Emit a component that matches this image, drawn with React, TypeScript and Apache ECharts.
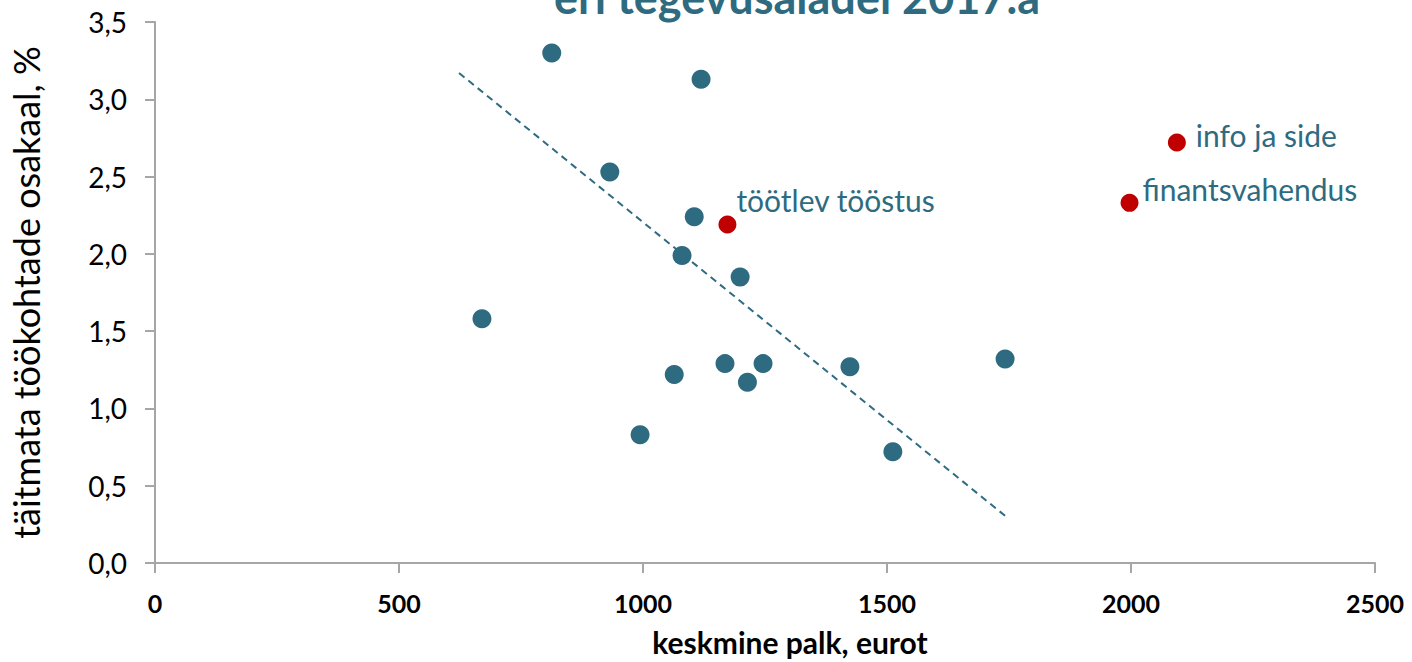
import React, { useEffect, useRef } from "react";
import * as echarts from "echarts";

// Blue points: average wage (EUR) vs share of unfilled vacancies (%)
const blueX = [670, 813, 1119, 932, 1105, 1080, 1199, 1064, 1168, 1246, 1214, 994, 1424, 1512, 1742];
const blueY = [1.58, 3.30, 3.13, 2.53, 2.24, 1.99, 1.85, 1.22, 1.29, 1.29, 1.17, 0.83, 1.27, 0.72, 1.32];

// Highlighted (red) points with labels
const redNames = ["töötlev tööstus", "info ja side", "finantsvahendus"];
const redX = [1173, 2094, 1997];
const redY = [2.19, 2.72, 2.33];

// Trend line endpoints
const trendX = [623, 1748];
const trendY = [3.17, 0.29];

const xTicks = { min: 0, max: 2500, interval: 500 };
const yTicks = { min: 0, max: 3.5, interval: 0.5 };

const titleText = "eri tegevusaladel 2017.a";
const xName = "keskmine palk, eurot";
const yName = "täitmata töökohtade osakaal, %";

const BLUE = "#2E6B80";
const RED = "#C00000";
const AXIS = "#A6A6A6";
const FONT = "Lato";

export default function App() {
  const ref = useRef<HTMLDivElement>(null);
  useEffect(() => {
    document.body.style.margin = "0";
    const chart = echarts.init(ref.current!, undefined, { renderer: "svg" });
    const labelOffsets: Record<string, number[]> = {
      "töötlev tööstus": [-2, -24],
      "info ja side": [8, -8],
      "finantsvahendus": [2, -14],
    };
    chart.setOption({
      animation: false,
      textStyle: { fontFamily: FONT },
      grid: { left: 155, right: 37, top: 22, bottom: 96 },
      graphic: [
        {
          type: "text",
          x: 797,
          y: 19,
          style: {
            text: titleText,
            fill: BLUE,
            font: `bold 45px ${FONT}`,
            textAlign: "center",
            textVerticalAlign: "bottom",
          },
        },
      ],
      xAxis: {
        type: "value",
        ...xTicks,
        name: xName,
        nameLocation: "middle",
        nameGap: 64,
        nameTextStyle: {
          fontSize: 30,
          fontWeight: "bold",
          color: "#000",
          fontFamily: FONT,
          padding: [0, 0, 0, 50],
        },
        axisLine: { show: true, lineStyle: { color: AXIS, width: 2 } },
        axisTick: { show: true, length: 10, lineStyle: { color: AXIS, width: 2 } },
        axisLabel: {
          fontSize: 25,
          fontWeight: "bold",
          color: "#000",
          margin: 27,
          fontFamily: FONT,
          formatter: (v: number) => String(v),
        },
        splitLine: { show: false },
      },
      yAxis: {
        type: "value",
        ...yTicks,
        name: yName,
        nameLocation: "middle",
        nameGap: 111,
        nameTextStyle: { fontSize: 36, color: "#000", fontFamily: FONT },
        axisLine: { show: true, lineStyle: { color: AXIS, width: 2 } },
        axisTick: { show: true, length: 10, lineStyle: { color: AXIS, width: 2 } },
        axisLabel: {
          fontSize: 28,
          color: "#000",
          margin: 28,
          fontFamily: FONT,
          formatter: (v: number) => v.toFixed(1).replace(".", ","),
        },
        splitLine: { show: false },
      },
      series: [
        {
          type: "line",
          data: trendX.map((x, i) => [x, trendY[i]]),
          symbol: "none",
          lineStyle: { color: BLUE, width: 2, type: [7, 5] },
          z: 1,
        },
        {
          type: "scatter",
          data: blueX.map((x, i) => [x, blueY[i]]),
          symbolSize: 19,
          itemStyle: { color: BLUE, opacity: 1 },
          z: 2,
        },
        {
          type: "scatter",
          data: redX.map((x, i) => ({
            value: [x, redY[i]],
            name: redNames[i],
            label: { offset: labelOffsets[redNames[i]] },
          })),
          symbolSize: 18,
          itemStyle: { color: RED, opacity: 1 },
          label: {
            show: true,
            position: "right",
            distance: 2,
            formatter: (p: any) => p.name,
            color: BLUE,
            fontSize: 30,
            fontFamily: FONT,
          },
          z: 3,
        },
      ],
    });
    return () => chart.dispose();
  }, []);
  return <div ref={ref} style={{ width: 1412, height: 662, position: "absolute", left: 0, top: 0 }} />;
}
